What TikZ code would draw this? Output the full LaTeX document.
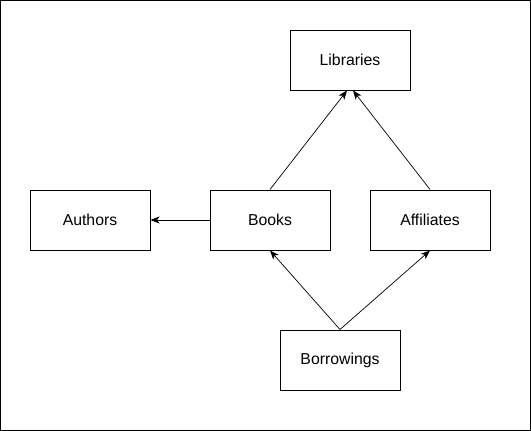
\documentclass[tikz,border=0pt]{standalone}
\usepackage{fontspec}
\setmainfont{Liberation Sans}
\usetikzlibrary{arrows.meta}
\begin{document}
\begin{tikzpicture}[x=1pt,y=-1pt,
        box/.style={draw,line width=1pt,minimum width=120pt,minimum height=60pt,font=\fontsize{15.8}{18}\selectfont},
        link/.style={line width=0.7pt,-{Stealth[length=9pt,width=7pt,inset=2.5pt]}}]
        \useasboundingbox (0,0) rectangle (531,431);
        \draw[line width=1pt] (0.5,0.5) rectangle (530.5,430.5);
        \node[box] (libraries) at (350,60) {Libraries};
        \node[box] (authors) at (90,220) {Authors};
        \node[box] (books) at (270,220) {Books};
        \node[box] (affiliates) at (430,220) {Affiliates};
        \node[box] (borrowings) at (340,360) {Borrowings};
        \draw[link] (books.north)--([xshift=-3pt]libraries.south);
        \draw[link] (affiliates.north)--([xshift=3pt]libraries.south);
        \draw[link] (books.west)--(authors.east);
        \draw[link] (borrowings.north)--(books.south);
        \draw[link] (borrowings.north)--(affiliates.south);
\end{tikzpicture}
\end{document}
